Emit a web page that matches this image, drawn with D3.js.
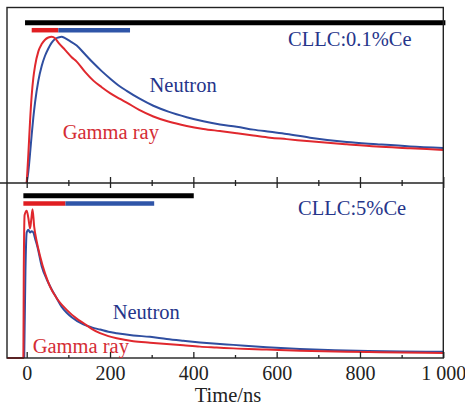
<!DOCTYPE html>
<html>
<head>
<meta charset="utf-8">
<script src="https://cdn.jsdelivr.net/npm/d3@7"></script>
<style>
  html, body { margin: 0; padding: 0; background: #fff; }
  svg { display: block; font-family: 'Liberation Serif', 'Times New Roman', serif; }
</style>
</head>
<body>
<svg id="vis" width="465" height="408"></svg>
<script>
// ---- data (time in ns, intensity normalised to peak) ----
const upperGammaT = [0, 4, 8, 12, 16, 20, 28, 36, 44, 52, 60, 68, 76, 92, 108, 120, 140, 160, 180, 200, 224, 240, 270, 304, 340, 384, 424, 464, 504, 544, 584, 624, 680, 768, 840, 920, 1000];
const upperGammaV = [0, 0.2, 0.42, 0.6, 0.72, 0.8, 0.9, 0.95, 0.98, 0.995, 1.0, 0.99, 0.96, 0.91, 0.86, 0.83, 0.76, 0.7, 0.655, 0.615, 0.575, 0.55, 0.5, 0.455, 0.42, 0.39, 0.37, 0.355, 0.34, 0.325, 0.31, 0.3, 0.285, 0.265, 0.25, 0.238, 0.226];

const upperNeutronT = [0, 4, 8, 12, 16, 20, 28, 36, 44, 52, 60, 68, 76, 84, 92, 104, 120, 140, 160, 180, 200, 224, 240, 270, 304, 340, 384, 424, 464, 504, 544, 584, 624, 680, 768, 840, 920, 1000];
const upperNeutronV = [0, 0.08, 0.2, 0.33, 0.45, 0.55, 0.7, 0.8, 0.87, 0.92, 0.96, 0.985, 0.995, 1.0, 0.99, 0.97, 0.94, 0.88, 0.82, 0.765, 0.715, 0.66, 0.63, 0.578, 0.528, 0.488, 0.45, 0.422, 0.4, 0.385, 0.365, 0.35, 0.335, 0.31, 0.28, 0.265, 0.25, 0.24];

const lowerGammaT = [-47, -8, -7, -5, 0, 4, 8, 11, 14, 18, 24, 32, 44, 56, 72, 96, 120, 136, 156, 176, 196, 216, 256, 296, 336, 376, 416, 456, 496, 576, 656, 740, 820, 900, 1000];
const lowerGammaV = [0, 0, 0.6, 0.98, 1.01, 0.96, 0.89, 0.95, 1.02, 0.9, 0.8, 0.7, 0.58, 0.49, 0.41, 0.33, 0.27, 0.24, 0.2, 0.17, 0.15, 0.135, 0.115, 0.105, 0.096, 0.087, 0.078, 0.072, 0.066, 0.058, 0.05, 0.045, 0.041, 0.038, 0.035];

const lowerNeutronT = [-6, -3, 0, 4, 8, 12, 16, 20, 26, 36, 48, 60, 72, 84, 96, 108, 136, 156, 176, 196, 216, 256, 296, 336, 376, 416, 456, 496, 576, 656, 740, 820, 900, 1000];
const lowerNeutronV = [0, 0.6, 0.86, 0.88, 0.86, 0.87, 0.86, 0.82, 0.76, 0.63, 0.54, 0.47, 0.41, 0.35, 0.31, 0.28, 0.23, 0.21, 0.195, 0.18, 0.17, 0.155, 0.145, 0.13, 0.118, 0.107, 0.098, 0.09, 0.074, 0.062, 0.053, 0.048, 0.045, 0.043];

// time windows drawn as bars above the curves [start, end] in ns
const upperWindows = { total: [-4, 1005], gamma: [12, 76], neutron: [76, 248] };
const lowerWindows = { total: [-8, 401], gamma: [-8, 93], neutron: [93, 306] };

const majorTicks = [0, 200, 400, 600, 800, 1000];
const minorTicks = [100, 300, 500, 700, 900];
const tickLabels = ['0', '200', '400', '600', '800', '1 000'];

const panelLabels = ['CLLC:0.1%Ce', 'CLLC:5%Ce'];
const seriesNames = ['Neutron', 'Gamma ray'];
const xTitle = 'Time/ns';

// ---- drawing ----
const RED = '#e0282e', BLUE = '#2f4ea0';
const TXT_RED = '#d42c34', TXT_BLUE = '#26358a';
const SERIF = "'Liberation Serif', 'Times New Roman', serif";

const svg = d3.select('#vis');
const fLeft = 7, fRight = 443.3, fTop = 7.5, fMid = 183, fBottom = 358;

const x = d3.scaleLinear().domain([0, 1000]).range([26.7, 443.3]);
const yUp = d3.scaleLinear().domain([0, 1.2]).range([fMid, fTop]);
const yLow = d3.scaleLinear().domain([0, 1.2]).range([fBottom, fMid]);

const zip = (t, v) => t.map((d, i) => [d, v[i]]);

function drawCurve(t, v, y, color) {
    const line = d3.line().x(d => x(d[0])).y(d => y(d[1])).curve(d3.curveMonotoneX);
    svg.append('path')
        .datum(zip(t, v))
        .attr('d', line)
        .attr('fill', 'none')
        .attr('stroke', color)
        .attr('stroke-width', 2)
        .attr('stroke-linejoin', 'round');
}

function drawBar(range, yPos, color, w) {
    svg.append('line')
        .attr('x1', x(range[0])).attr('x2', x(range[1]))
        .attr('y1', yPos).attr('y2', yPos)
        .attr('stroke', color)
        .attr('stroke-width', w);
}

// curves
drawCurve(upperNeutronT, upperNeutronV, yUp, BLUE);
drawCurve(upperGammaT, upperGammaV, yUp, RED);
drawCurve(lowerNeutronT, lowerNeutronV, yLow, BLUE);
drawCurve(lowerGammaT, lowerGammaV, yLow, RED);

// windows
drawBar(upperWindows.total, 22.7, '#000', 5);
drawBar(upperWindows.gamma, 30.2, '#e01e22', 4.5);
drawBar(upperWindows.neutron, 30.2, '#2f55a8', 4.5);
drawBar(lowerWindows.total, 195.8, '#000', 5);
drawBar(lowerWindows.gamma, 203.4, '#e01e22', 4.5);
drawBar(lowerWindows.neutron, 203.4, '#2f55a8', 4.5);

// frame
svg.append('rect')
    .attr('x', fLeft).attr('y', fTop)
    .attr('width', fRight - fLeft).attr('height', fBottom - fTop)
    .attr('fill', 'none')
    .attr('stroke', '#222')
    .attr('stroke-width', 1.4);
svg.append('line')
    .attr('x1', 0).attr('x2', fRight)
    .attr('y1', fMid).attr('y2', fMid)
    .attr('stroke', '#222')
    .attr('stroke-width', 1.4);

// middle axis ticks (crossing the line)
const midAxis = svg.append('g')
    .attr('transform', 'translate(0,' + fMid + ')')
    .call(d3.axisBottom(x).tickValues(majorTicks).tickFormat(''));
midAxis.select('.domain').remove();
midAxis.selectAll('.tick line').attr('y1', -6).attr('y2', 5).attr('stroke', '#222').attr('stroke-width', 1.3);

const midMinor = svg.append('g')
    .attr('transform', 'translate(0,' + fMid + ')')
    .call(d3.axisBottom(x).tickValues(minorTicks).tickFormat(''));
midMinor.select('.domain').remove();
midMinor.selectAll('.tick line').attr('y1', -3).attr('y2', 3).attr('stroke', '#222').attr('stroke-width', 1.3);

// bottom axis, ticks pointing inward
const botAxis = svg.append('g')
    .attr('transform', 'translate(0,' + fBottom + ')')
    .attr('font-family', SERIF)
    .call(d3.axisBottom(x).tickValues(majorTicks).tickSize(-6).tickPadding(8)
        .tickFormat((d, i) => tickLabels[i]));
botAxis.attr('font-family', SERIF);
botAxis.select('.domain').remove();
botAxis.selectAll('.tick line').attr('stroke', '#222').attr('stroke-width', 1.3);
botAxis.selectAll('text')
    .style('font-family', SERIF)
    .attr('font-size', 20)
    .attr('fill', '#222');

const botMinor = svg.append('g')
    .attr('transform', 'translate(0,' + fBottom + ')')
    .call(d3.axisBottom(x).tickValues(minorTicks).tickSize(-3).tickFormat(''));
botMinor.select('.domain').remove();
botMinor.selectAll('.tick line').attr('stroke', '#222').attr('stroke-width', 1.3);

// texts
function label(txt, xp, yp, color, anchor) {
    svg.append('text')
        .attr('x', xp).attr('y', yp)
        .attr('font-size', 20.5)
        .attr('fill', color)
        .attr('text-anchor', anchor || 'start')
        .text(txt);
}
label(panelLabels[0], 288, 46, TXT_BLUE);
label(panelLabels[1], 298, 215, TXT_BLUE);
label(seriesNames[0], 149.5, 92, TXT_BLUE);
label(seriesNames[1], 62.7, 139.3, TXT_RED);
label(seriesNames[0], 112.7, 319.3, TXT_BLUE);
label(seriesNames[1], 32.7, 353.3, TXT_RED);
label(xTitle, 228, 401.5, '#222', 'middle');
</script>
</body>
</html>
